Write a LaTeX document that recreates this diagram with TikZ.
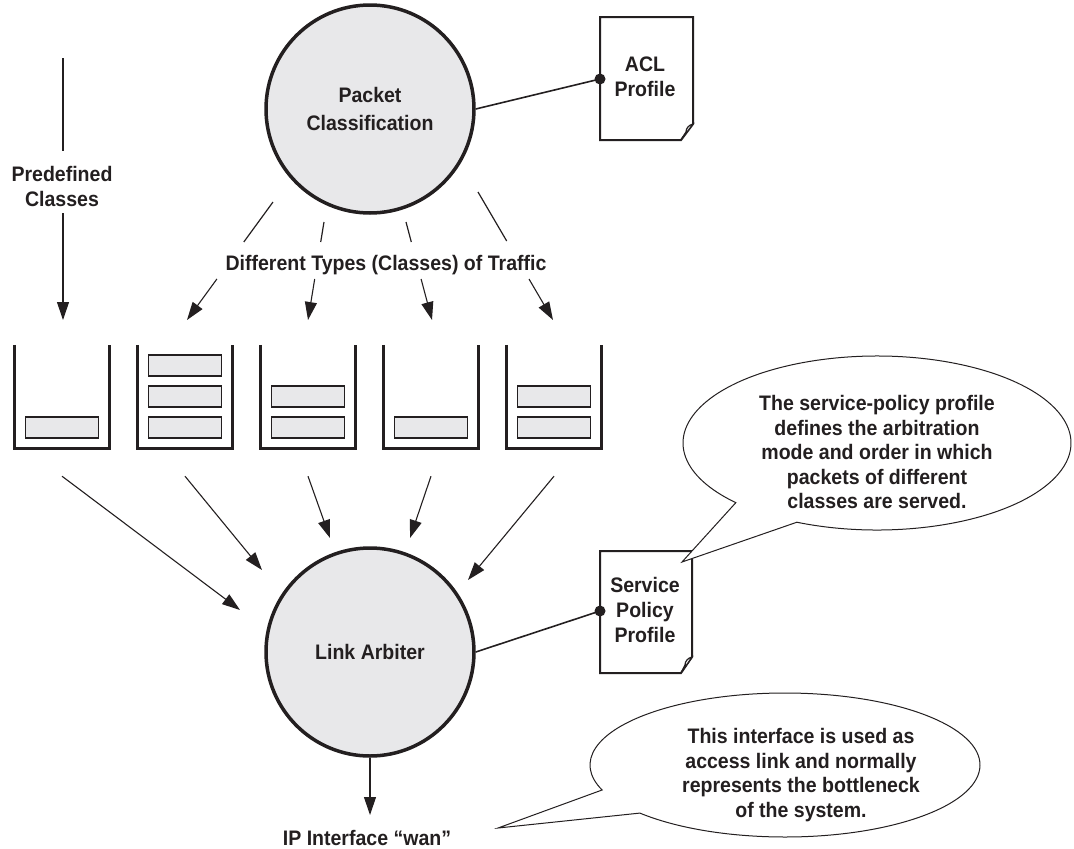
\documentclass[tikz,border=0pt]{standalone}
\usepackage{fontspec}
\setmainfont{Liberation Sans}[FakeStretch=0.93]
\usetikzlibrary{arrows.meta,calc}
\definecolor{ink}{HTML}{231F20}
\definecolor{shade}{HTML}{E8E8EA}
\begin{document}
\begin{tikzpicture}[x=1pt,y=1pt,
  txt/.style={font=\bfseries\fontsize{21pt}{25pt}\selectfont, text=ink, align=center, inner sep=0pt},
  note/.style={txt, font=\bfseries\fontsize{21pt}{24.5pt}\selectfont},
  proc/.style={txt, circle, draw=ink, line width=3.5pt, fill=shade, minimum size=208pt},
  flow/.style={draw=ink, line width=1.1pt, -{Triangle[length=18pt,width=12pt]}},
  wire/.style={draw=ink, line width=1.2pt},
  link/.style={draw=ink, line width=1.6pt},
  wall/.style={draw=ink, line width=3pt},
  pkt/.style={draw=ink, line width=1.8pt, fill=shade, minimum width=73pt, minimum height=21pt, inner sep=0pt},
  slot/.style={minimum width=94pt, minimum height=103pt, inner sep=0pt},
  docpage/.style={draw=ink, line width=2pt, fill=white, line join=miter},
  fold/.style={draw=ink, line width=1.2pt, fill=white},
  bubble/.style={draw=ink, line width=1pt, fill=white},
]
\useasboundingbox (0,0) rectangle (1074,-849);

% processing circles
\node[proc] (pc) at (370,-109) {Packet\\[3pt]Classification};
\node[proc] (la) at (370,-652) {Link Arbiter};

% ACL profile document
\draw[docpage] (600,-17) -- (693,-17) -- (693,-124) -- (681,-140) -- (600,-140) -- cycle;
\filldraw[fold] (693,-124) .. controls (689,-125) and (686,-128) .. (686,-132) -- (681,-140) -- cycle;
\node[txt] (acl) at (645,-77) {ACL\\Profile};
\coordinate (acldot) at (600,-79);
\draw[link] (pc.east) -- (acldot);
\fill[ink] (acldot) circle (5.5pt);

% Service policy profile document
\draw[docpage] (600,-551) -- (692,-551) -- (692,-657) -- (681,-673) -- (600,-673) -- cycle;
\filldraw[fold] (692,-657) .. controls (688,-658) and (685,-661) .. (685,-665) -- (681,-673) -- cycle;
\node[txt] (spp) at (645,-609.5) {Service\\Policy\\Profile};
\coordinate (spdot) at (600,-611);
\draw[link] (la.east) -- (spdot);
\fill[ink] (spdot) circle (5.5pt);

% queues
\foreach \i/\cx/\n in {1/62/1,2/185/3,3/308/2,4/431/1,5/554/2} {
  \node[slot] (q\i) at (\cx,-396.5) {};
  \draw[wall] (q\i.north west) -- (q\i.south west) -- (q\i.south east) -- (q\i.north east);
  \foreach \k in {1,...,\n} {
    \node[pkt] (p\i\k) at (\cx,{-427.5+31*(\k-1)}) {};
  }
}

% predefined classes arrow
\coordinate (s0) at (63,-58);
\coordinate (g0a) at (63,-151);
\coordinate (g0b) at (63,-213);
\coordinate (t0) at (63,-320);
\draw[wire] (s0) -- (g0a);
\draw[flow] (g0b) -- (t0);
\node[txt] (pdc) at (62,-186) {Predefined\\Classes};

% classified traffic arrows
\foreach \i/\sx/\sy/\ax/\ay/\bx/\by/\tx in {1/273/202/243.8/242/216.9/279/187,
    2/324/222/320.7/242/314.7/279/308, 3/406/222/411.3/242/421.1/279/432,
    4/478/192/506.7/241/529/279/553} {
  \coordinate (s\i) at (\sx,-\sy);
  \coordinate (ga\i) at (\ax,-\ay);
  \coordinate (gb\i) at (\bx,-\by);
  \coordinate (t\i) at (\tx,-320);
  \draw[wire] (s\i) -- (ga\i);
  \draw[flow] (gb\i) -- (t\i);
}
\node[txt, anchor=base] (dtt) at (386,-270) {Different Types (Classes) of Traffic};

% queues to link arbiter
\foreach \i/\tx/\ty in {1/240/610,2/262/570,3/330/538,4/410/538,5/468/580} {
  \coordinate (b\i) at ($(q\i.south)+(0,-28)$);
  \coordinate (u\i) at (\tx,-\ty);
  \draw[flow] (b\i) -- (u\i);
}

% output interface
\coordinate (ipt) at (370,-815);
\draw[flow] (la.south) -- (ipt);
\node[txt, anchor=base] (ip) at (367,-845) {IP Interface “wan”};

% callouts
\draw[bubble] ([shift={(245.6:194pt and 87pt)}]877,-443) arc[start angle=245.6, end angle=583.3, x radius=194pt, y radius=87pt] -- (682,-562) -- cycle;
\node[note] (c1) at (877,-452) {The service-policy profile\\defines the arbitration\\mode and order in which\\packets of different\\classes are served.};

\draw[bubble] ([shift={(221.9:195pt and 72pt)}]785,-765) arc[start angle=221.9, end angle=560.3, x radius=195pt, y radius=72pt] -- (498,-828) -- cycle;
\node[note] (c2) at (801,-775) {This interface is used as\\access link and normally\\represents the bottleneck\\of the system.};
\end{tikzpicture}
\end{document}
